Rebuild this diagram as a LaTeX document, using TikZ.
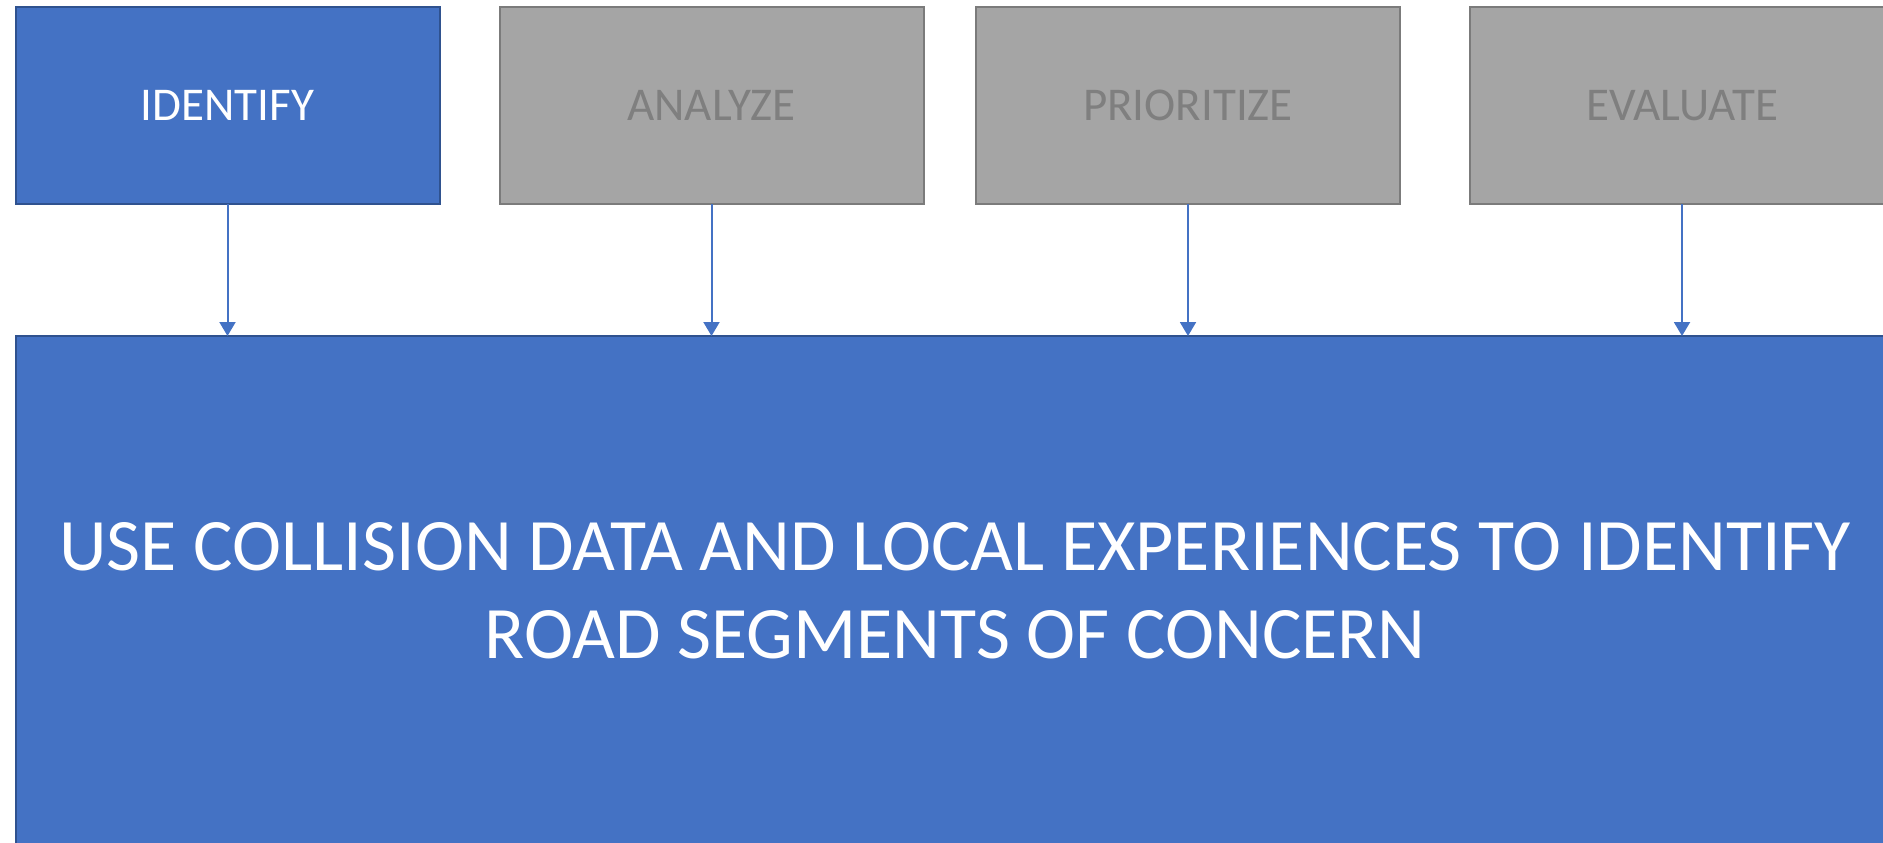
\documentclass[tikz,border=0pt]{standalone}
\usepackage{fontspec}
\setmainfont{Carlito}
\usetikzlibrary{arrows.meta}
\definecolor{blueF}{HTML}{4472C4}
\definecolor{blueD}{HTML}{2F528F}
\definecolor{grayF}{HTML}{A5A5A5}
\definecolor{grayD}{HTML}{7B7B7B}
\definecolor{grayT}{HTML}{7F7F7F}
\tikzset{
  stagebox/.style={draw, line width=1pt, minimum width=212pt, minimum height=98.5pt,
    inner sep=0pt, outer sep=0pt, font=\fontsize{23.5}{28}\selectfont},
  activebox/.style={stagebox, fill=blueF, draw=blueD, text=white},
  idlebox/.style={stagebox, fill=grayF, draw=grayD, text=grayT},
  bigbox/.style={draw=blueD, fill=blueF, line width=1pt, minimum width=939.7pt,
    minimum height=255pt, inner sep=0pt, outer sep=0pt, text=white, align=center,
    font=\fontsize{37}{44}\selectfont},
  link/.style={draw=blueF, line width=1pt, -{Triangle[width=8pt,length=7pt]}}
}
\begin{document}
\begin{tikzpicture}[x=0.5pt,y=-0.5pt]
\useasboundingbox (0,0) rectangle (1883,842);
\clip (0,0) rectangle (1883,842);
\node[activebox] (id) at (227.5,105.6) {IDENTIFY};
\node[idlebox] (an) at (711.5,105.6) {ANALYZE};
\node[idlebox] (pr) at (1188,105.6) {PRIORITIZE};
\node[idlebox] (ev) at (1682,105.6) {EVALUATE};
\node[bigbox] (big) at (955.3,591) {USE COLLISION DATA AND LOCAL EXPERIENCES TO IDENTIFY\\ROAD SEGMENTS OF CONCERN};
\draw[link] (id.south) -- (id.south |- big.north);
\draw[link] (an.south) -- (an.south |- big.north);
\draw[link] (pr.south) -- (pr.south |- big.north);
\draw[link] (ev.south) -- (ev.south |- big.north);
\end{tikzpicture}
\end{document}
